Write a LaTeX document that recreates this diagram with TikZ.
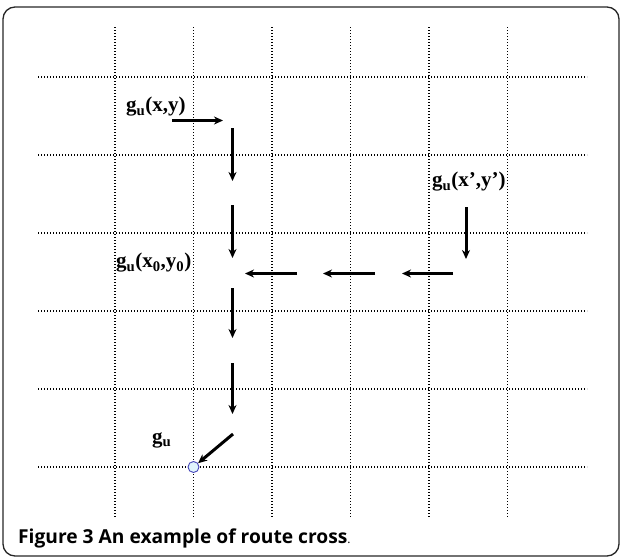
\documentclass[tikz,border=0pt]{standalone}
\usepackage{fontspec}
\setmainfont{Liberation Serif}
\newfontfamily\capfont{Open Sans}
\usetikzlibrary{arrows.meta,positioning}

\begin{document}
\begin{tikzpicture}[
  x=1pt, y=-1pt, >={Stealth[length=9pt,width=8pt]},
  gridline/.style={black, line width=1.5pt, dash pattern=on 1.4pt off 1.6pt},
  route/.style={->, line width=3pt, black},
  spot/.style={circle, draw=blue!45!gray, fill=cyan!12, minimum size=11pt, inner sep=0pt, line width=0.9pt},
  tag/.style={font=\fontsize{21}{21}\selectfont\bfseries, inner sep=0pt}
]
\useasboundingbox (0,0) rectangle (622,560);

% frame
\draw[black!85, line width=1.3pt, rounded corners=12pt] (3,7) rectangle (619,556);

% grid
\foreach \x in {115,193.5,272,350.5,429,507.5}
  \draw[gridline] (\x,27) -- (\x,517);
\foreach \y in {77,155,233,311,389,467}
  \draw[gridline] (38,\y) -- (587,\y);

% labels
\node[tag, anchor=west] (start) at (126,107) {g\textsubscript{u}(x,y)};
\node[tag, anchor=west] (other) at (432,182) {g\textsubscript{u}(x',y')};
\node[tag, anchor=west] (cross) at (116,263) {g\textsubscript{u}(x\textsubscript{0},y\textsubscript{0})};
\node[tag, anchor=west] (goal) at (152,440) {g\textsubscript{u}};
\node[spot] (end) at (193.5,467) {};

% route points
\coordinate (a1) at (172,120.5); \coordinate (a2) at (223,120.5);
\coordinate (b1) at (232.5,128); \coordinate (b2) at (232.5,181);
\coordinate (c1) at (232.5,205); \coordinate (c2) at (232.5,258);
\coordinate (d1) at (466,207); \coordinate (d2) at (466,259);
\coordinate (e1) at (453,273.5); \coordinate (e2) at (402,273.5);
\coordinate (f1) at (375,273.5); \coordinate (f2) at (323,273.5);
\coordinate (g1) at (297,273.5); \coordinate (g2) at (245,273.5);
\coordinate (h1) at (232.5,288); \coordinate (h2) at (232.5,338);
\coordinate (i1) at (232.5,363); \coordinate (i2) at (232.5,414);

% routes
\draw[route] (a1) -- (a2);
\draw[route] (b1) -- (b2);
\draw[route] (c1) -- (c2);
\draw[route] (d1) -- (d2);
\draw[route] (e1) -- (e2);
\draw[route] (f1) -- (f2);
\draw[route] (g1) -- (g2);
\draw[route] (h1) -- (h2);
\draw[route] (i1) -- (i2);
\coordinate (j1) at (233,434);
\draw[route] (j1) -- (end);

% caption
\node[anchor=west, inner sep=0pt, font=\capfont\fontsize{19.2}{20}\selectfont] (caption) at (18,538)
  {\textbf{Figure 3 An example of route cross}{\fontsize{12}{13}\selectfont.}};
\end{tikzpicture}
\end{document}
